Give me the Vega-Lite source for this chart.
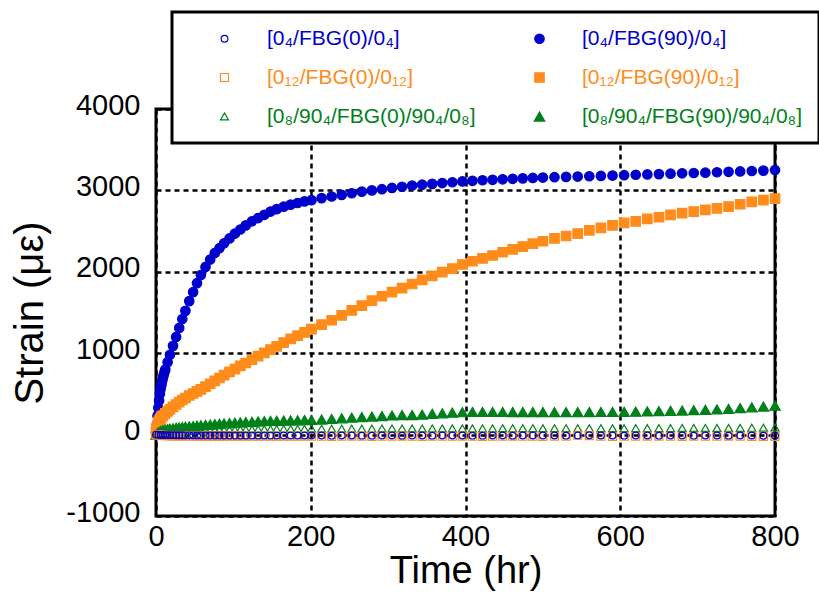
{
"$schema": "https://vega.github.io/schema/vega-lite/v6.json",
"width": 619, "height": 407,
"autosize": {"type": "none"},
"padding": {"left": 156, "top": 109, "right": 44, "bottom": 76},
"background": "white",
"config": {
 "view": {"stroke": "black", "strokeWidth": 3},
 "font": "Liberation Sans",
 "legend": {"strokeWidth": 3},
 "axis": {"domain": false, "ticks": false, "grid": true, "gridColor": "black", "gridDash": [5, 4], "gridWidth": 2.5, "gridOpacity": 1, "labelFont": "Liberation Sans", "labelFontSize": 29, "labelColor": "black", "titleFont": "Liberation Sans", "titleFontWeight": "normal", "titleColor": "black"}
},
"datasets": {"d": [
{"t":0,"s":"B","v":30},{"t":1,"s":"B","v":120},{"t":2,"s":"B","v":230},{"t":3,"s":"B","v":330},{"t":4,"s":"B","v":420},{"t":5,"s":"B","v":500},{"t":6,"s":"B","v":560},{"t":7,"s":"B","v":610},{"t":8,"s":"B","v":660},{"t":9,"s":"B","v":700},{"t":10,"s":"B","v":735},{"t":11,"s":"B","v":770},{"t":12,"s":"B","v":800},{"t":15,"s":"B","v":890},{"t":18,"s":"B","v":980},{"t":22,"s":"B","v":1090},{"t":26,"s":"B","v":1200},{"t":30,"s":"B","v":1310},{"t":34,"s":"B","v":1420},{"t":38,"s":"B","v":1520},{"t":43,"s":"B","v":1640},{"t":48,"s":"B","v":1750},{"t":53,"s":"B","v":1860},{"t":58,"s":"B","v":1960},{"t":64,"s":"B","v":2060},{"t":70,"s":"B","v":2150},{"t":76,"s":"B","v":2230},{"t":82,"s":"B","v":2290},{"t":88,"s":"B","v":2350},{"t":95,"s":"B","v":2410},{"t":102,"s":"B","v":2470},{"t":109,"s":"B","v":2520},{"t":116,"s":"B","v":2570},{"t":124,"s":"B","v":2620},{"t":132,"s":"B","v":2660},{"t":140,"s":"B","v":2700},{"t":148,"s":"B","v":2740},{"t":156,"s":"B","v":2770},{"t":165,"s":"B","v":2800},{"t":174,"s":"B","v":2825},{"t":183,"s":"B","v":2845},{"t":192,"s":"B","v":2865},{"t":201,"s":"B","v":2880},
{"t":214,"s":"B","v":2905},{"t":227,"s":"B","v":2925},{"t":240,"s":"B","v":2945},{"t":253,"s":"B","v":2965},{"t":266,"s":"B","v":2985},{"t":279,"s":"B","v":3000},{"t":292,"s":"B","v":3015},{"t":305,"s":"B","v":3030},{"t":318,"s":"B","v":3045},{"t":331,"s":"B","v":3060},{"t":344,"s":"B","v":3070},{"t":357,"s":"B","v":3080},{"t":370,"s":"B","v":3090},{"t":383,"s":"B","v":3100},{"t":396,"s":"B","v":3110},{"t":409,"s":"B","v":3118},{"t":422,"s":"B","v":3125},{"t":435,"s":"B","v":3130},{"t":448,"s":"B","v":3136},{"t":461,"s":"B","v":3142},{"t":474,"s":"B","v":3148},{"t":487,"s":"B","v":3153},{"t":500,"s":"B","v":3158},
{"t":515,"s":"B","v":3162},{"t":530,"s":"B","v":3166},{"t":545,"s":"B","v":3170},{"t":560,"s":"B","v":3174},{"t":575,"s":"B","v":3178},{"t":590,"s":"B","v":3182},{"t":605,"s":"B","v":3187},{"t":620,"s":"B","v":3192},{"t":635,"s":"B","v":3196},{"t":650,"s":"B","v":3200},{"t":665,"s":"B","v":3205},{"t":680,"s":"B","v":3210},{"t":695,"s":"B","v":3214},{"t":710,"s":"B","v":3218},{"t":725,"s":"B","v":3223},{"t":740,"s":"B","v":3228},{"t":755,"s":"B","v":3233},{"t":770,"s":"B","v":3238},{"t":785,"s":"B","v":3243},{"t":800,"s":"B","v":3250},
{"t":0,"s":"D","v":30},{"t":1,"s":"D","v":80},{"t":2,"s":"D","v":120},{"t":3,"s":"D","v":150},{"t":4,"s":"D","v":170},{"t":5,"s":"D","v":185},{"t":6,"s":"D","v":200},{"t":7,"s":"D","v":215},{"t":8,"s":"D","v":225},{"t":9,"s":"D","v":235},{"t":12,"s":"D","v":260},{"t":15,"s":"D","v":285},{"t":18,"s":"D","v":310},{"t":22,"s":"D","v":340},{"t":26,"s":"D","v":370},{"t":30,"s":"D","v":400},{"t":34,"s":"D","v":425},{"t":38,"s":"D","v":450},{"t":43,"s":"D","v":480},{"t":48,"s":"D","v":505},{"t":53,"s":"D","v":530},{"t":58,"s":"D","v":555},{"t":64,"s":"D","v":590},{"t":70,"s":"D","v":625},{"t":76,"s":"D","v":660},{"t":82,"s":"D","v":695},{"t":88,"s":"D","v":730},{"t":95,"s":"D","v":770},{"t":102,"s":"D","v":805},{"t":109,"s":"D","v":845},{"t":116,"s":"D","v":880},{"t":124,"s":"D","v":920},{"t":132,"s":"D","v":965},{"t":140,"s":"D","v":1005},{"t":148,"s":"D","v":1045},{"t":156,"s":"D","v":1085},{"t":165,"s":"D","v":1130},{"t":174,"s":"D","v":1175},{"t":183,"s":"D","v":1215},{"t":192,"s":"D","v":1255},{"t":201,"s":"D","v":1295},
{"t":214,"s":"D","v":1350},{"t":227,"s":"D","v":1405},{"t":240,"s":"D","v":1465},{"t":253,"s":"D","v":1525},{"t":266,"s":"D","v":1585},{"t":279,"s":"D","v":1645},{"t":292,"s":"D","v":1700},{"t":305,"s":"D","v":1750},{"t":318,"s":"D","v":1800},{"t":331,"s":"D","v":1850},{"t":344,"s":"D","v":1900},{"t":357,"s":"D","v":1950},{"t":370,"s":"D","v":1995},{"t":383,"s":"D","v":2040},{"t":396,"s":"D","v":2090},{"t":409,"s":"D","v":2130},{"t":422,"s":"D","v":2165},{"t":435,"s":"D","v":2200},{"t":448,"s":"D","v":2240},{"t":461,"s":"D","v":2275},{"t":474,"s":"D","v":2310},{"t":487,"s":"D","v":2345},{"t":500,"s":"D","v":2375},
{"t":515,"s":"D","v":2410},{"t":530,"s":"D","v":2440},{"t":545,"s":"D","v":2470},{"t":560,"s":"D","v":2510},{"t":575,"s":"D","v":2540},{"t":590,"s":"D","v":2570},{"t":605,"s":"D","v":2600},{"t":620,"s":"D","v":2620},{"t":635,"s":"D","v":2650},{"t":650,"s":"D","v":2670},{"t":665,"s":"D","v":2700},{"t":680,"s":"D","v":2720},{"t":695,"s":"D","v":2740},{"t":710,"s":"D","v":2760},{"t":725,"s":"D","v":2780},{"t":740,"s":"D","v":2800},{"t":755,"s":"D","v":2830},{"t":770,"s":"D","v":2860},{"t":785,"s":"D","v":2880},{"t":800,"s":"D","v":2900},
{"t":0,"s":"F","v":0},{"t":3,"s":"F","v":30},{"t":6,"s":"F","v":45},{"t":9,"s":"F","v":55},{"t":12,"s":"F","v":62},{"t":15,"s":"F","v":68},{"t":18,"s":"F","v":73},{"t":22,"s":"F","v":78},{"t":26,"s":"F","v":83},{"t":30,"s":"F","v":88},{"t":34,"s":"F","v":92},{"t":38,"s":"F","v":96},{"t":43,"s":"F","v":100},{"t":48,"s":"F","v":105},{"t":53,"s":"F","v":110},{"t":58,"s":"F","v":114},{"t":64,"s":"F","v":119},{"t":70,"s":"F","v":124},{"t":76,"s":"F","v":128},{"t":82,"s":"F","v":133},{"t":88,"s":"F","v":137},{"t":95,"s":"F","v":142},{"t":102,"s":"F","v":146},{"t":109,"s":"F","v":150},{"t":116,"s":"F","v":154},{"t":124,"s":"F","v":158},{"t":132,"s":"F","v":162},{"t":140,"s":"F","v":165},{"t":148,"s":"F","v":168},{"t":156,"s":"F","v":170},{"t":165,"s":"F","v":172},{"t":174,"s":"F","v":174},{"t":183,"s":"F","v":176},{"t":192,"s":"F","v":178},{"t":201,"s":"F","v":180},
{"t":214,"s":"F","v":185},{"t":227,"s":"F","v":192},{"t":240,"s":"F","v":200},{"t":253,"s":"F","v":208},{"t":266,"s":"F","v":215},{"t":279,"s":"F","v":222},{"t":292,"s":"F","v":228},{"t":305,"s":"F","v":235},{"t":318,"s":"F","v":240},{"t":331,"s":"F","v":240},{"t":344,"s":"F","v":245},{"t":357,"s":"F","v":255},{"t":370,"s":"F","v":262},{"t":383,"s":"F","v":270},{"t":396,"s":"F","v":275},{"t":409,"s":"F","v":278},{"t":422,"s":"F","v":278},{"t":435,"s":"F","v":278},{"t":448,"s":"F","v":278},{"t":461,"s":"F","v":277},{"t":474,"s":"F","v":277},{"t":487,"s":"F","v":277},{"t":500,"s":"F","v":277},
{"t":515,"s":"F","v":276},{"t":530,"s":"F","v":276},{"t":545,"s":"F","v":277},{"t":560,"s":"F","v":277},{"t":575,"s":"F","v":278},{"t":590,"s":"F","v":278},{"t":605,"s":"F","v":280},{"t":620,"s":"F","v":282},{"t":635,"s":"F","v":285},{"t":650,"s":"F","v":288},{"t":665,"s":"F","v":292},{"t":680,"s":"F","v":296},{"t":695,"s":"F","v":300},{"t":710,"s":"F","v":305},{"t":725,"s":"F","v":310},{"t":740,"s":"F","v":316},{"t":755,"s":"F","v":325},{"t":770,"s":"F","v":335},{"t":785,"s":"F","v":345},{"t":800,"s":"F","v":355},
{"t":0,"s":"E","v":0},{"t":3,"s":"E","v":10},{"t":6,"s":"E","v":16},{"t":9,"s":"E","v":20},{"t":12,"s":"E","v":24},{"t":15,"s":"E","v":27},{"t":18,"s":"E","v":30},{"t":22,"s":"E","v":33},{"t":26,"s":"E","v":36},{"t":30,"s":"E","v":38},{"t":34,"s":"E","v":40},{"t":38,"s":"E","v":42},{"t":43,"s":"E","v":44},{"t":48,"s":"E","v":46},{"t":53,"s":"E","v":48},{"t":58,"s":"E","v":50},{"t":64,"s":"E","v":52},{"t":70,"s":"E","v":54},{"t":76,"s":"E","v":56},{"t":82,"s":"E","v":57},{"t":88,"s":"E","v":58},{"t":95,"s":"E","v":60},{"t":102,"s":"E","v":61},{"t":109,"s":"E","v":62},{"t":116,"s":"E","v":63},{"t":124,"s":"E","v":64},{"t":132,"s":"E","v":65},{"t":140,"s":"E","v":66},{"t":148,"s":"E","v":67},{"t":156,"s":"E","v":68},{"t":165,"s":"E","v":69},{"t":174,"s":"E","v":70},{"t":183,"s":"E","v":70},{"t":192,"s":"E","v":71},{"t":201,"s":"E","v":72},
{"t":214,"s":"E","v":72},{"t":227,"s":"E","v":73},{"t":240,"s":"E","v":73},{"t":253,"s":"E","v":74},{"t":266,"s":"E","v":74},{"t":279,"s":"E","v":74},{"t":292,"s":"E","v":75},{"t":305,"s":"E","v":75},{"t":318,"s":"E","v":75},{"t":331,"s":"E","v":76},{"t":344,"s":"E","v":76},{"t":357,"s":"E","v":76},{"t":370,"s":"E","v":76},{"t":383,"s":"E","v":77},{"t":396,"s":"E","v":77},{"t":409,"s":"E","v":77},{"t":422,"s":"E","v":77},{"t":435,"s":"E","v":77},{"t":448,"s":"E","v":78},{"t":461,"s":"E","v":78},{"t":474,"s":"E","v":78},{"t":487,"s":"E","v":78},{"t":500,"s":"E","v":78},
{"t":515,"s":"E","v":78},{"t":530,"s":"E","v":78},{"t":545,"s":"E","v":79},{"t":560,"s":"E","v":79},{"t":575,"s":"E","v":79},{"t":590,"s":"E","v":79},{"t":605,"s":"E","v":80},{"t":620,"s":"E","v":80},{"t":635,"s":"E","v":80},{"t":650,"s":"E","v":80},{"t":665,"s":"E","v":80},{"t":680,"s":"E","v":81},{"t":695,"s":"E","v":81},{"t":710,"s":"E","v":81},{"t":725,"s":"E","v":82},{"t":740,"s":"E","v":82},{"t":755,"s":"E","v":83},{"t":770,"s":"E","v":84},{"t":785,"s":"E","v":85},{"t":800,"s":"E","v":88},
{"t":0,"s":"C","v":0},{"t":3,"s":"C","v":-5},{"t":6,"s":"C","v":-8},{"t":9,"s":"C","v":-10},{"t":12,"s":"C","v":-12},{"t":15,"s":"C","v":-13},{"t":18,"s":"C","v":-14},{"t":22,"s":"C","v":-15},{"t":26,"s":"C","v":-15},{"t":30,"s":"C","v":-16},{"t":34,"s":"C","v":-16},{"t":38,"s":"C","v":-17},{"t":43,"s":"C","v":-17},{"t":48,"s":"C","v":-17},{"t":53,"s":"C","v":-18},{"t":58,"s":"C","v":-18},{"t":64,"s":"C","v":-18},{"t":70,"s":"C","v":-18},{"t":76,"s":"C","v":-18},{"t":82,"s":"C","v":-19},{"t":88,"s":"C","v":-19},{"t":95,"s":"C","v":-19},{"t":102,"s":"C","v":-19},{"t":109,"s":"C","v":-19},{"t":116,"s":"C","v":-19},{"t":124,"s":"C","v":-20},{"t":132,"s":"C","v":-20},{"t":140,"s":"C","v":-20},{"t":148,"s":"C","v":-20},{"t":156,"s":"C","v":-20},{"t":165,"s":"C","v":-20},{"t":174,"s":"C","v":-20},{"t":183,"s":"C","v":-20},{"t":192,"s":"C","v":-20},{"t":201,"s":"C","v":-20},
{"t":214,"s":"C","v":-20},{"t":227,"s":"C","v":-21},{"t":240,"s":"C","v":-20},{"t":253,"s":"C","v":-19},{"t":266,"s":"C","v":-20},{"t":279,"s":"C","v":-21},{"t":292,"s":"C","v":-20},{"t":305,"s":"C","v":-20},{"t":318,"s":"C","v":-19},{"t":331,"s":"C","v":-20},{"t":344,"s":"C","v":-21},{"t":357,"s":"C","v":-20},{"t":370,"s":"C","v":-20},{"t":383,"s":"C","v":-20},{"t":396,"s":"C","v":-19},{"t":409,"s":"C","v":-20},{"t":422,"s":"C","v":-21},{"t":435,"s":"C","v":-20},{"t":448,"s":"C","v":-20},{"t":461,"s":"C","v":-19},{"t":474,"s":"C","v":-20},{"t":487,"s":"C","v":-20},{"t":500,"s":"C","v":-21},
{"t":515,"s":"C","v":-20},{"t":530,"s":"C","v":-20},{"t":545,"s":"C","v":-8},{"t":560,"s":"C","v":-12},{"t":575,"s":"C","v":-20},{"t":590,"s":"C","v":-21},{"t":605,"s":"C","v":-20},{"t":620,"s":"C","v":-20},{"t":635,"s":"C","v":-19},{"t":650,"s":"C","v":-20},{"t":665,"s":"C","v":-20},{"t":680,"s":"C","v":-21},{"t":695,"s":"C","v":-20},{"t":710,"s":"C","v":-20},{"t":725,"s":"C","v":-20},{"t":740,"s":"C","v":-19},{"t":755,"s":"C","v":-20},{"t":770,"s":"C","v":-21},{"t":785,"s":"C","v":-22},{"t":800,"s":"C","v":-22},
{"t":0,"s":"A","v":0},{"t":3,"s":"A","v":-2},{"t":6,"s":"A","v":-4},{"t":9,"s":"A","v":-5},{"t":12,"s":"A","v":-6},{"t":15,"s":"A","v":-6},{"t":18,"s":"A","v":-7},{"t":22,"s":"A","v":-7},{"t":26,"s":"A","v":-8},{"t":30,"s":"A","v":-8},{"t":34,"s":"A","v":-8},{"t":38,"s":"A","v":-9},{"t":43,"s":"A","v":-9},{"t":48,"s":"A","v":-9},{"t":53,"s":"A","v":-10},{"t":58,"s":"A","v":-10},{"t":64,"s":"A","v":-10},{"t":70,"s":"A","v":-10},{"t":76,"s":"A","v":-10},{"t":82,"s":"A","v":-10},{"t":88,"s":"A","v":-11},{"t":95,"s":"A","v":-11},{"t":102,"s":"A","v":-11},{"t":109,"s":"A","v":-11},{"t":116,"s":"A","v":-11},{"t":124,"s":"A","v":-12},{"t":132,"s":"A","v":-12},{"t":140,"s":"A","v":-12},{"t":148,"s":"A","v":-12},{"t":156,"s":"A","v":-12},{"t":165,"s":"A","v":-12},{"t":174,"s":"A","v":-12},{"t":183,"s":"A","v":-12},{"t":192,"s":"A","v":-12},{"t":201,"s":"A","v":-12},
{"t":214,"s":"A","v":-12},{"t":227,"s":"A","v":-13},{"t":240,"s":"A","v":-12},{"t":253,"s":"A","v":-12},{"t":266,"s":"A","v":-13},{"t":279,"s":"A","v":-13},{"t":292,"s":"A","v":-12},{"t":305,"s":"A","v":-12},{"t":318,"s":"A","v":-13},{"t":331,"s":"A","v":-12},{"t":344,"s":"A","v":-12},{"t":357,"s":"A","v":-13},{"t":370,"s":"A","v":-12},{"t":383,"s":"A","v":-12},{"t":396,"s":"A","v":-12},{"t":409,"s":"A","v":-13},{"t":422,"s":"A","v":-13},{"t":435,"s":"A","v":-12},{"t":448,"s":"A","v":-12},{"t":461,"s":"A","v":-13},{"t":474,"s":"A","v":-12},{"t":487,"s":"A","v":-12},{"t":500,"s":"A","v":-12},
{"t":515,"s":"A","v":-12},{"t":530,"s":"A","v":-13},{"t":545,"s":"A","v":-10},{"t":560,"s":"A","v":-8},{"t":575,"s":"A","v":-12},{"t":590,"s":"A","v":-12},{"t":605,"s":"A","v":-13},{"t":620,"s":"A","v":-12},{"t":635,"s":"A","v":-12},{"t":650,"s":"A","v":-13},{"t":665,"s":"A","v":-12},{"t":680,"s":"A","v":-12},{"t":695,"s":"A","v":-13},{"t":710,"s":"A","v":-12},{"t":725,"s":"A","v":-12},{"t":740,"s":"A","v":-13},{"t":755,"s":"A","v":-12},{"t":770,"s":"A","v":-12},{"t":785,"s":"A","v":-14},{"t":800,"s":"A","v":-14}
]},
"data": {"name": "d"},
"mark": {"type": "point", "strokeWidth": 1.2, "opacity": 1},
"encoding": {
 "x": {"field": "t", "type": "quantitative", "scale": {"domain": [0, 800], "nice": false}, "axis": {"values": [0, 200, 400, 600, 800], "title": "Time (hr)", "titleFontSize": 38, "labelPadding": 6, "labelFlush": false, "titleX": 309.5, "titleY": 66, "titleBaseline": "alphabetic", "titleAlign": "center"}},
 "y": {"field": "v", "type": "quantitative", "scale": {"domain": [-1000, 4000], "nice": false, "zero": false}, "axis": {"values": [-1000, 0, 1000, 2000, 3000, 4000], "labelExpr": "'' + datum.value", "title": "Strain (με)", "titleFontSize": 40, "labelPadding": 16, "labelOffset": -4, "titleX": -114, "titleY": 203.5, "titleAngle": 270, "titleBaseline": "alphabetic", "titleAlign": "center"}},
 "stroke": {"field": "s", "type": "nominal", "scale": {"domain": ["A","B","C","D","E","F"], "range": ["#0000CC","#0000CC","#FF8C1A","#FF8C1A","#00801A","#00801A"]},
  "legend": {"title": null, "orient": "none", "direction": "horizontal", "legendX": 16, "legendY": -97, "padding": 16, "columns": 2, "columnPadding": 27, "rowPadding": 17, "symbolOffset": 26, "labelOffset": 32, "labelFont": "Liberation Sans", "labelFontSize": 21, "labelLimit": 400, "symbolStrokeWidth": 1.2, "strokeColor": "black", "fillColor": "white", "labelColor": {"expr": "scale('stroke', datum.value)"},
   "labelExpr": "datum.value=='A'?'[0₄/FBG(0)/0₄]':datum.value=='B'?'[0₄/FBG(90)/0₄]':datum.value=='C'?'[0₁₂/FBG(0)/0₁₂]':datum.value=='D'?'[0₁₂/FBG(90)/0₁₂]':datum.value=='E'?'[0₈/90₄/FBG(0)/90₄/0₈]':'[0₈/90₄/FBG(90)/90₄/0₈]'"}},
 "fill": {"field": "s", "type": "nominal", "scale": {"domain": ["A","B","C","D","E","F"], "range": ["transparent","#0000CC","transparent","#FF8C1A","transparent","#00801A"]},
  "legend": {"title": null, "orient": "none", "direction": "horizontal", "legendX": 16, "legendY": -97, "padding": 16, "columns": 2, "columnPadding": 27, "rowPadding": 17, "symbolOffset": 26, "labelOffset": 32, "labelFont": "Liberation Sans", "labelFontSize": 21, "labelLimit": 400, "symbolStrokeWidth": 1.2, "strokeColor": "black", "fillColor": "white", "labelColor": {"expr": "scale('stroke', datum.value)"},
   "labelExpr": "datum.value=='A'?'[0₄/FBG(0)/0₄]':datum.value=='B'?'[0₄/FBG(90)/0₄]':datum.value=='C'?'[0₁₂/FBG(0)/0₁₂]':datum.value=='D'?'[0₁₂/FBG(90)/0₁₂]':datum.value=='E'?'[0₈/90₄/FBG(0)/90₄/0₈]':'[0₈/90₄/FBG(90)/90₄/0₈]'"}},
 "shape": {"field": "s", "type": "nominal", "scale": {"domain": ["A","B","C","D","E","F"], "range": ["circle","circle","square","square","triangle-up","triangle-up"]},
  "legend": {"title": null, "orient": "none", "direction": "horizontal", "legendX": 16, "legendY": -97, "padding": 16, "columns": 2, "columnPadding": 27, "rowPadding": 17, "symbolOffset": 26, "labelOffset": 32, "labelFont": "Liberation Sans", "labelFontSize": 21, "labelLimit": 400, "symbolStrokeWidth": 1.2, "strokeColor": "black", "fillColor": "white", "labelColor": {"expr": "scale('stroke', datum.value)"},
   "labelExpr": "datum.value=='A'?'[0₄/FBG(0)/0₄]':datum.value=='B'?'[0₄/FBG(90)/0₄]':datum.value=='C'?'[0₁₂/FBG(0)/0₁₂]':datum.value=='D'?'[0₁₂/FBG(90)/0₁₂]':datum.value=='E'?'[0₈/90₄/FBG(0)/90₄/0₈]':'[0₈/90₄/FBG(90)/90₄/0₈]'"}},
 "size": {"field": "s", "type": "nominal", "scale": {"type": "ordinal", "domain": ["A","B","C","D","E","F"], "range": [45, 90, 64, 90, 64, 110]},
  "legend": {"title": null, "orient": "none", "direction": "horizontal", "legendX": 16, "legendY": -97, "padding": 16, "columns": 2, "columnPadding": 27, "rowPadding": 17, "symbolOffset": 26, "labelOffset": 32, "labelFont": "Liberation Sans", "labelFontSize": 21, "labelLimit": 400, "symbolStrokeWidth": 1.2, "strokeColor": "black", "fillColor": "white", "labelColor": {"expr": "scale('stroke', datum.value)"},
   "labelExpr": "datum.value=='A'?'[0₄/FBG(0)/0₄]':datum.value=='B'?'[0₄/FBG(90)/0₄]':datum.value=='C'?'[0₁₂/FBG(0)/0₁₂]':datum.value=='D'?'[0₁₂/FBG(90)/0₁₂]':datum.value=='E'?'[0₈/90₄/FBG(0)/90₄/0₈]':'[0₈/90₄/FBG(90)/90₄/0₈]'"}}
}
}
